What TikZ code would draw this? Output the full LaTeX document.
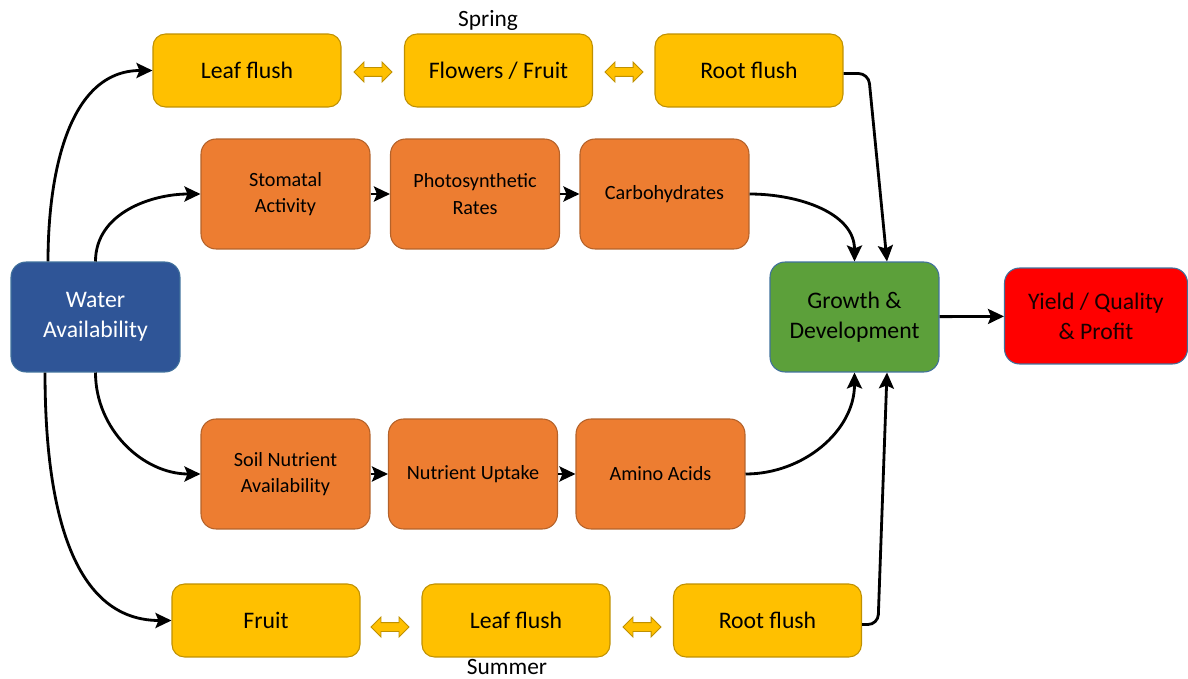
\documentclass[tikz,border=0pt]{standalone}
\usepackage{fontspec}
\setmainfont{Carlito}
\usetikzlibrary{arrows.meta}
\usetikzlibrary{shapes.arrows}

\definecolor{yell}{HTML}{FFC000}
\definecolor{yellline}{HTML}{BF9000}
\definecolor{orng}{HTML}{ED7D31}
\definecolor{orngline}{HTML}{B4622A}
\definecolor{wblue}{HTML}{2F5597}
\definecolor{bline}{HTML}{41719C}
\definecolor{grn}{HTML}{5CA03A}
\definecolor{redbox}{HTML}{FF0000}

\tikzset{
  box/.style={draw, rounded corners=0.3cm, align=center, line width=0.6pt, inner sep=2pt},
  season/.style={box, fill=yell, draw=yellline, rounded corners=0.25cm,
    minimum width=3.76cm, minimum height=1.46cm, font=\fontsize{13.5}{16}\selectfont},
  proc/.style={box, fill=orng, draw=orngline,
    minimum width=3.38cm, minimum height=2.2cm, font=\fontsize{11.5}{15}\selectfont},
  hub/.style={box, minimum width=3.38cm, minimum height=2.2cm,
    font=\fontsize{13.5}{17}\selectfont},
  arr/.style={-{Stealth[length=3.2mm, width=3mm, inset=0.6mm]}, line width=1.6pt},
  swap/.style={double arrow, fill=yell, draw=yellline, line width=0.5pt,
    inner xsep=0pt, inner ysep=0.08cm, minimum width=0pt,
    minimum height=0.76cm, double arrow head extend=0.11cm},
  label/.style={font=\fontsize{13.3}{16}\selectfont}
}

\begin{document}
\begin{tikzpicture}[x=0.02cm, y=-0.02cm]
  \useasboundingbox (0,0) rectangle (1188,679);

  \node[season] (leafT) at (247,70.5) {Leaf flush};
  \node[season] (flowT) at (498.5,70.5) {Flowers / Fruit};
  \node[season] (rootT) at (749,70.5) {Root flush};
  \node[label] (spring) at (488,20) {Spring};
  \node[swap] (swapTa) at (373,72) {};
  \node[swap] (swapTb) at (624,72) {};

  \node[proc] (stom) at (285.5,194) {Stomatal\\Activity};
  \node[proc] (photo) at (475,194) {Photosynthetic\\Rates};
  \node[proc] (carb) at (664.5,194) {Carbohydrates};

  \node[hub, fill=wblue, draw=bline, text=white] (water) at (95.5,317) {Water\\Availability};
  \node[hub, fill=grn, draw=bline] (growth) at (854.5,317) {Growth \&\\Development};
  \node[hub, fill=redbox, draw=bline, minimum width=3.66cm, minimum height=1.92cm,
        text=black!90!red] (yield) at (1096,316) {Yield / Quality\\\& Profit};

  \node[proc] (soil) at (285.5,474) {Soil Nutrient\\Availability};
  \node[proc] (upt) at (473,474) {Nutrient Uptake};
  \node[proc] (amino) at (660.5,474) {Amino Acids};

  \node[season] (fruitB) at (266,620.5) {Fruit};
  \node[season] (leafB) at (516,620.5) {Leaf flush};
  \node[season] (rootB) at (767.5,620.5) {Root flush};
  \node[label] (summer) at (507,667) {Summer};
  \node[swap] (swapBa) at (390,627) {};
  \node[swap] (swapBb) at (642,627) {};

  \draw[arr] ([xshift=-0.95cm]water.north) to[out=90, in=180] (leafT.west);
  \draw[arr] (water.north) to[out=90, in=180] (stom.west);
  \draw[arr] (water.south) to[out=-90, in=180] (soil.west);
  \draw[arr] ([xshift=-1.01cm]water.south) to[out=-90, in=180] (fruitB.west);

  \draw[arr] (stom) -- (photo);
  \draw[arr] (photo) -- (carb);
  \draw[arr] (soil) -- (upt);
  \draw[arr] (upt) -- (amino);

  \draw[arr] (carb.east) to[out=0, in=90] (growth.north);
  \draw[arr] (amino.east) to[out=0, in=-90] (growth.south);
  \draw[arr, rounded corners=0.2cm] ([yshift=-0.06cm]rootT.east) -- ++(0.5cm,0)
    -- ([xshift=0.65cm]growth.north);
  \draw[arr, rounded corners=0.2cm] ([yshift=-0.08cm]rootB.east) -- ++(0.32cm,0)
    -- ([xshift=0.65cm]growth.south);
  \draw[arr] (growth) -- (yield);
\end{tikzpicture}
\end{document}
